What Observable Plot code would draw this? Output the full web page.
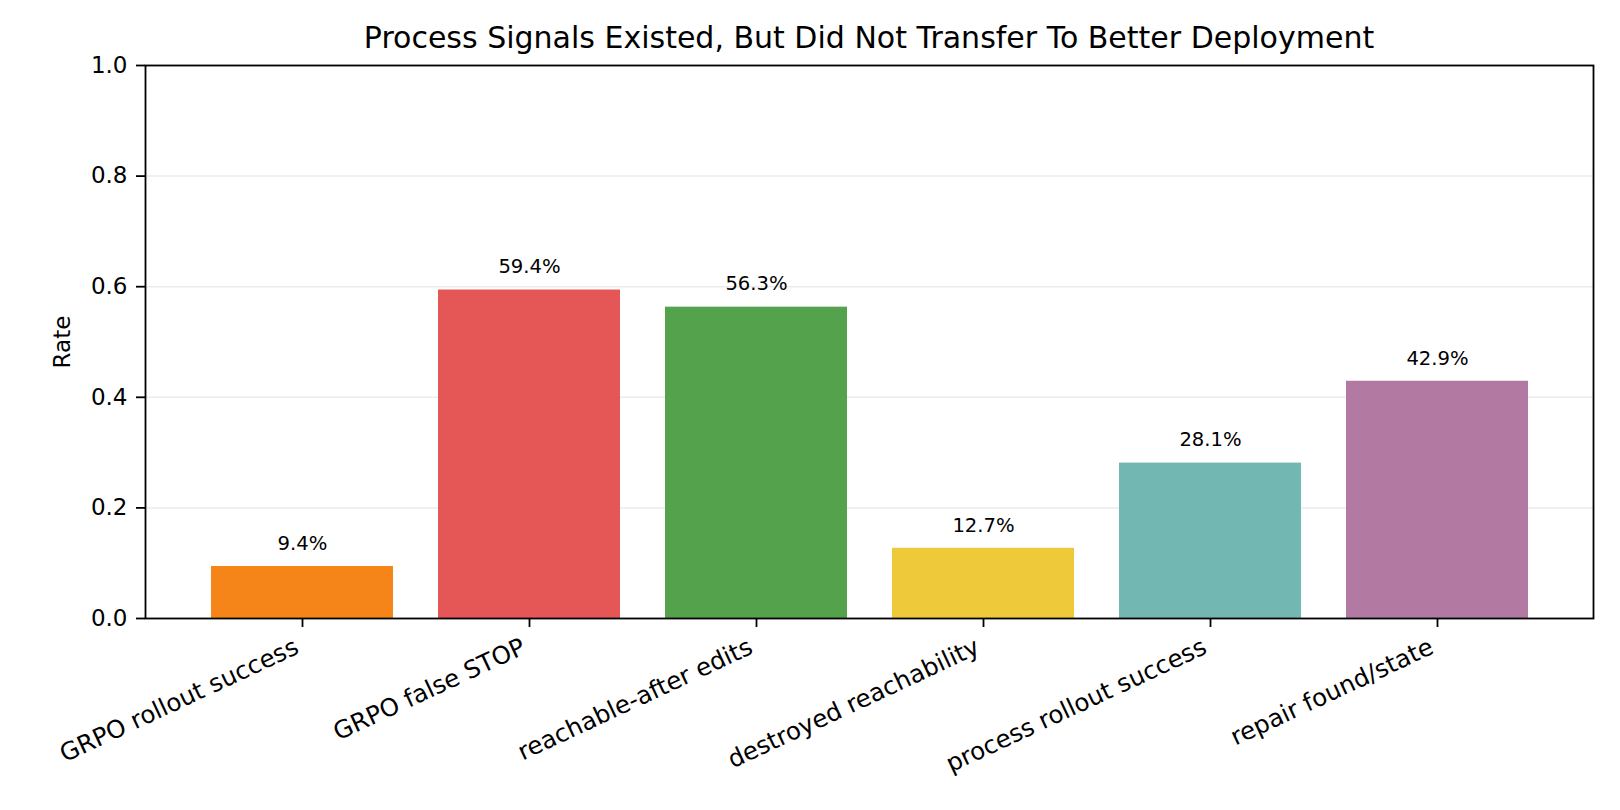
<!DOCTYPE html>
<html>
<head>
<meta charset="utf-8">
<script src="https://cdn.jsdelivr.net/npm/d3@7"></script>
<script src="https://cdn.jsdelivr.net/npm/@observablehq/plot@0.6"></script>
<style>
  html, body { margin: 0; padding: 0; background: #ffffff; }
  #wrap { position: relative; width: 1620px; height: 810px; overflow: hidden; background: #ffffff; }
  #title {
    position: absolute;
    left: 0;
    top: 17.6px;
    box-sizing: border-box;
    width: 1620px;
    height: 40px;
    line-height: 40px;
    margin: 0;
    padding: 0 27px 0 145px;
    text-align: center;
    font-family: "DejaVu Sans", sans-serif;
    font-size: 30px;
    color: #000;
    white-space: nowrap;
    z-index: 2;
  }
  #chart { position: absolute; left: 0; top: 0; }
  svg { display: block; }
</style>
</head>
<body>
<div id="wrap">
  <div id="chart"></div>
  <div id="title">Process Signals Existed, But Did Not Transfer To Better Deployment</div>
</div>
<script>
const categories = [
  "GRPO rollout success",
  "GRPO false STOP",
  "reachable-after edits",
  "destroyed reachability",
  "process rollout success",
  "repair found/state"
];
const rates = [0.094, 0.594, 0.563, 0.127, 0.281, 0.429];
const barColors = ["#f58518", "#e45756", "#54a24b", "#eeca3b", "#72b7b2", "#b279a2"];
const yTicks = [0, 0.2, 0.4, 0.6, 0.8, 1.0];
const yLabel = "Rate";

const table = categories.map((c, i) => ({
  category: c,
  rate: rates[i],
  label: (rates[i] * 100).toFixed(1) + "%"
}));

const xFont = 24.5;

const chart = Plot.plot({
  width: 1620,
  height: 810,
  marginLeft: 145,
  marginRight: 27,
  marginTop: 65,
  marginBottom: 192,
  style: {fontFamily: "DejaVu Sans, sans-serif", fontSize: "23px", color: "#000", background: "#ffffff"},
  x: {type: "band", domain: categories, paddingInner: 0.2, paddingOuter: 0.288, align: 0.5, axis: null},
  y: {domain: [0, 1], axis: null},
  color: {domain: categories, range: barColors, legend: false},
  marks: [
    Plot.gridY(yTicks, {stroke: "#ebebeb", strokeOpacity: 1, strokeWidth: 1.5}),
    Plot.barY(table, {x: "category", y: "rate", fill: "category"}),
    Plot.text(table, {x: "category", y: "rate", text: "label", dy: -16.7, lineAnchor: "bottom", fontSize: 19.6, fill: "#000"}),
    Plot.frame({stroke: "#000", strokeWidth: 1.8}),
    Plot.axisY({ticks: yTicks, tickFormat: d3.format(".1f"), tickSize: 9, tickPadding: 9, fontSize: 23, label: null, strokeWidth: 1.8}),
    Plot.axisX({tickSize: 9, tickFormat: () => "", label: null, strokeWidth: 1.8}),
    Plot.text(categories, {
      x: d => d,
      frameAnchor: "bottom",
      dx: -0.423 * 0.22 * xFont,
      dy: 17.3 + 0.906 * 0.76 * xFont,
      rotate: -25,
      textAnchor: "end",
      lineAnchor: "bottom",
      fontSize: xFont,
      fill: "#000"
    }),
    Plot.text([yLabel], {frameAnchor: "left", dx: -83, rotate: -90, lineAnchor: "middle", textAnchor: "middle", fontSize: 23, fill: "#000"})
  ]
});
document.getElementById("chart").appendChild(chart);
</script>
</body>
</html>
